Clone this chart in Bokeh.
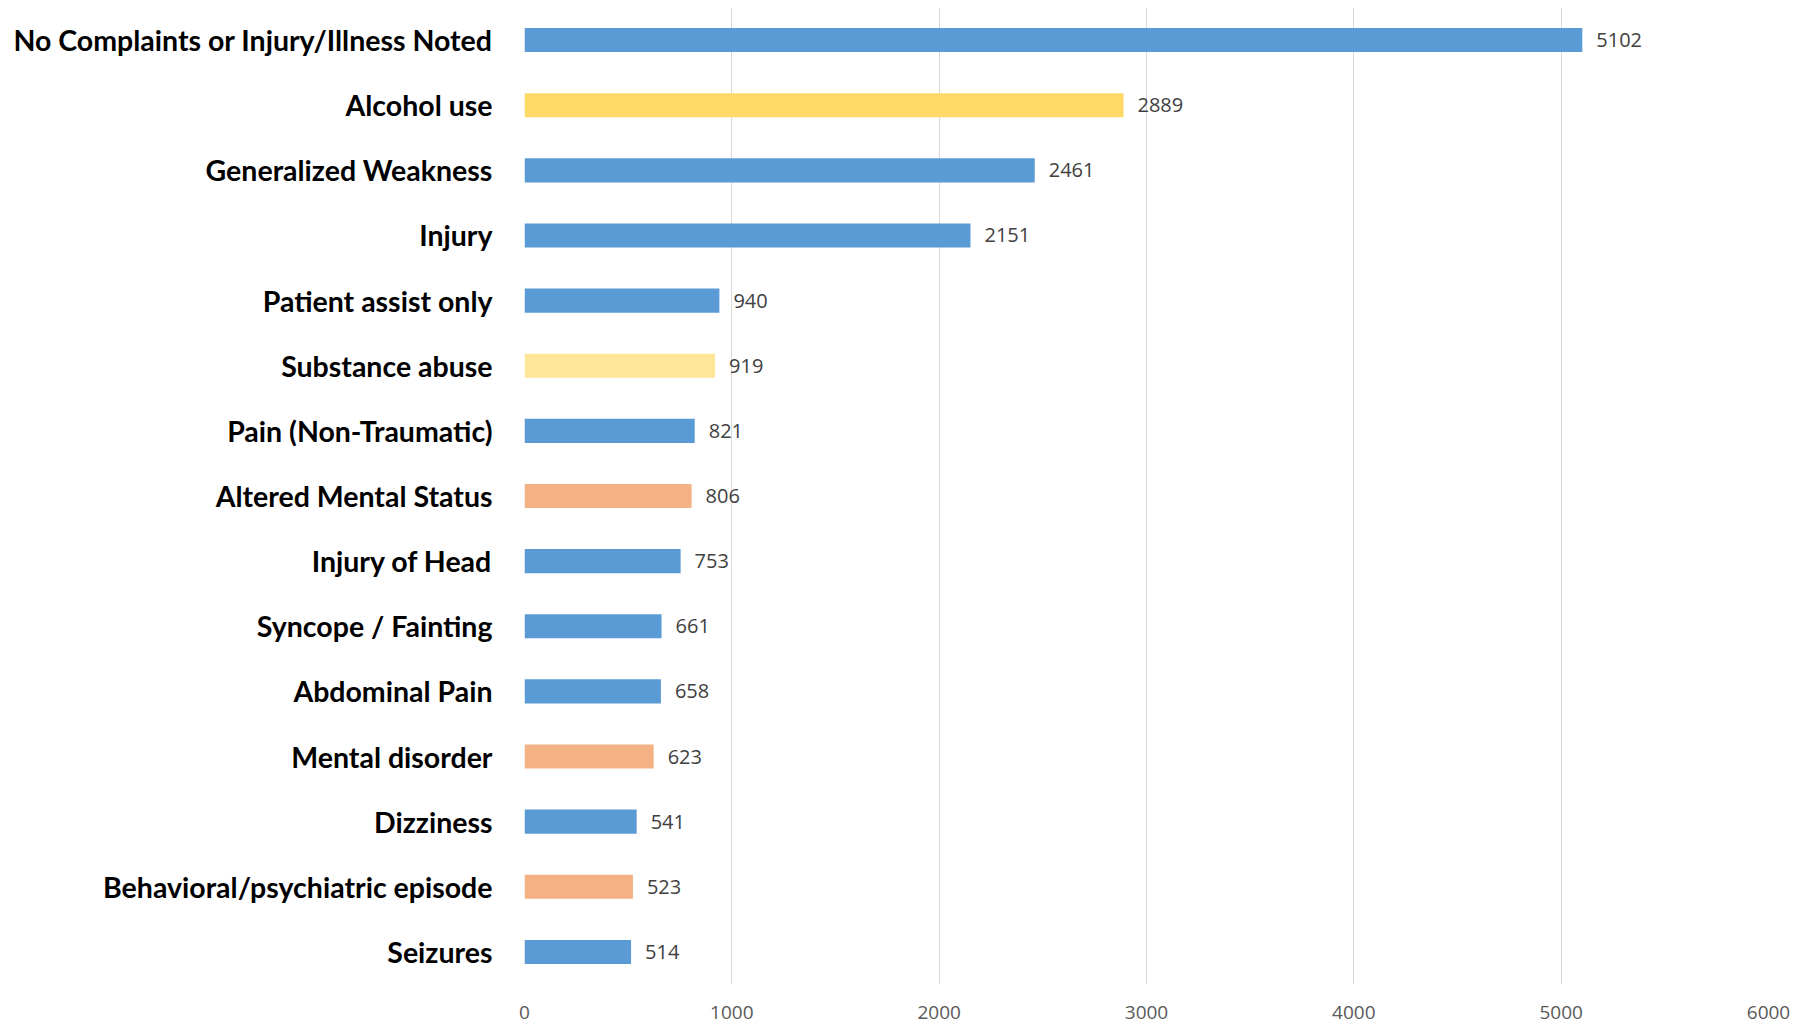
from bokeh.plotting import figure
from bokeh.models import ColumnDataSource, FactorRange, Range1d, FixedTicker
from bokeh.core.properties import value
from bokeh.embed import file_html
from bokeh.resources import INLINE

categories = [
    "No Complaints or Injury/Illness Noted",
    "Alcohol use",
    "Generalized Weakness",
    "Injury",
    "Patient assist only",
    "Substance abuse",
    "Pain (Non-Traumatic)",
    "Altered Mental Status",
    "Injury of Head",
    "Syncope / Fainting",
    "Abdominal Pain",
    "Mental disorder",
    "Dizziness",
    "Behavioral/psychiatric episode",
    "Seizures",
]
counts = [5102, 2889, 2461, 2151, 940, 919, 821, 806, 753, 661, 658, 623, 541, 523, 514]
groups = ["blue", "yellow", "blue", "blue", "blue", "lightyellow", "blue", "orange",
          "blue", "blue", "blue", "orange", "blue", "orange", "blue"]
x_ticks = [0, 1000, 2000, 3000, 4000, 5000, 6000]

palette = {"blue": "#5B9BD5", "yellow": "#FFD966", "lightyellow": "#FFE699", "orange": "#F4B183"}

src = ColumnDataSource(dict(
    cat=categories,
    val=counts,
    color=[palette[g] for g in groups],
    label=[str(v) for v in counts],
))

p = figure(
    width=1806, height=1029,
    y_range=FactorRange(factors=list(reversed(categories))),
    x_range=Range1d(0, 6000),
    output_backend="svg", toolbar_location=None,
    min_border_left=524, min_border_right=38, min_border_top=7, min_border_bottom=45,
)
p.outline_line_color = None
p.background_fill_color = "white"
p.border_fill_color = "white"

p.hbar(y="cat", right="val", left=0, height=0.37, color="color", line_color=None, source=src)
p.text(x="val", y="cat", text="label", source=src, x_offset=14,
       text_baseline="middle", text_align="left",
       text_font=value("Open Sans"), text_font_size="20px", text_color="#404040")

p.xaxis.ticker = FixedTicker(ticks=x_ticks)
p.xaxis.axis_line_color = None
p.xaxis.major_tick_line_color = None
p.xaxis.minor_tick_line_color = None
p.xaxis.major_label_text_font = "Open Sans"
p.xaxis.major_label_text_font_size = "19px"
p.xaxis.major_label_text_color = "#595959"
p.xaxis.major_label_standoff = 15

p.yaxis.axis_line_color = None
p.yaxis.major_tick_line_color = None
p.yaxis.minor_tick_line_color = None
p.yaxis.major_label_text_font = "Lato"
p.yaxis.major_label_text_font_style = "bold"
p.yaxis.major_label_text_font_size = "28.5px"
p.yaxis.major_label_text_color = "#000000"
p.yaxis.major_label_standoff = 26

p.xgrid.ticker = FixedTicker(ticks=x_ticks)
p.xgrid.grid_line_color = "#D9D9D9"
p.xgrid.grid_line_width = 1
p.ygrid.grid_line_color = None

open("out.html", "w").write(file_html(p, INLINE))
